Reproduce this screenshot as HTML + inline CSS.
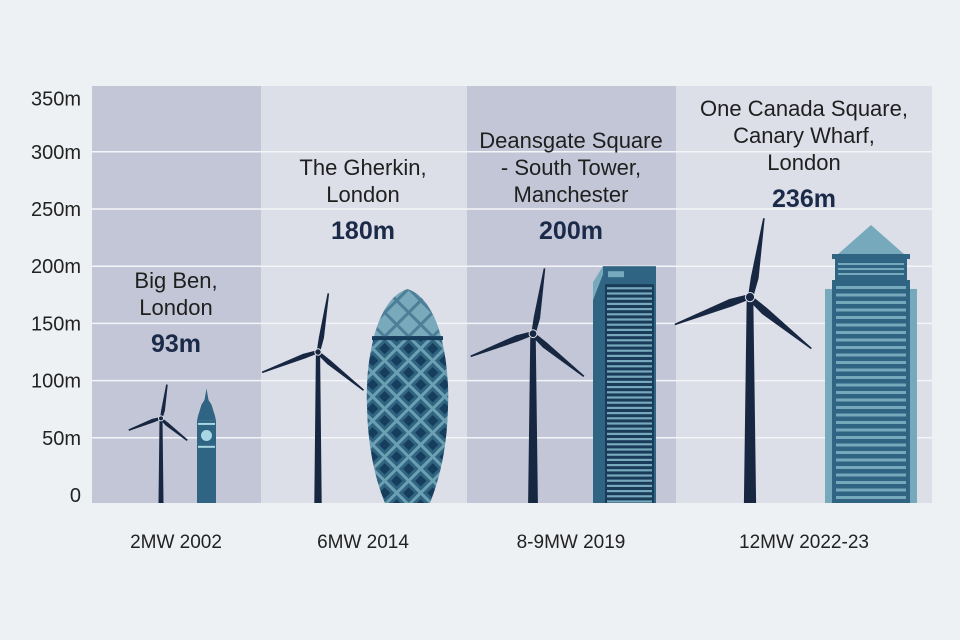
<!DOCTYPE html>
<html><head><meta charset="utf-8"><style>
body{margin:0;background:#eef1f3;}
svg{display:block;font-family:"Liberation Sans","DejaVu Sans",sans-serif;}
</style></head><body>
<svg id="chart" width="960" height="640" viewBox="0 0 960 640">
<defs>
<pattern id="diam" width="17" height="17" patternUnits="userSpaceOnUse" patternTransform="rotate(45)">
<rect width="17" height="17" fill="#6d9fb2"/><rect x="1.5" y="1.5" width="14" height="14" fill="#306582"/><rect x="4.5" y="4.5" width="8" height="8" fill="#163d5c"/>
</pattern>
<pattern id="diamTop" width="17" height="17" patternUnits="userSpaceOnUse" patternTransform="rotate(45)">
<rect width="17" height="17" fill="#4d7f98"/><rect x="1.5" y="1.5" width="14" height="14" fill="#78aabb"/>
</pattern>
</defs>
<rect width="960" height="640" fill="#eef1f3"/>
<g id="cols"></g><g id="grid"></g><g id="yax"></g><g id="marks"></g><g id="labels"></g>
</svg>
<script>
const categories = ["2MW 2002","6MW 2014","8-9MW 2019","12MW 2022-23"];
const hubHeights = [67,125,141,173];
const rotorRadius = [30,52,58,70];
const buildingHeights = [93,180,200,236];
const buildingNames = [["Big Ben,","London"],["The Gherkin,","London"],["Deansgate Square","- South Tower,","Manchester"],["One Canada Square,","Canary Wharf,","London"]];
const yTicks = [0,50,100,150,200,250,300,350];

const NS="http://www.w3.org/2000/svg";
const plotTop=86, plotBot=503, base=495, scale=1.144;
const colEdges=[92,261,467,676,932];
const turbX=[161,318,533,750];
const bldgX=[[197,216],[367,448],[593,656],[825,917]];
const labelCx=[176,363,571,804];
const valueLabelY=[352,239,239,207];
function y(v){return base-v*scale;}
function el(tag,attrs,parent){const e=document.createElementNS(NS,tag);for(const k in attrs)e.setAttribute(k,attrs[k]);parent.appendChild(e);return e;}
const G=id=>document.getElementById(id);

for(let i=0;i<4;i++){
  const r=el('rect',{x:colEdges[i],y:plotTop,width:colEdges[i+1]-colEdges[i],height:plotBot-plotTop,fill:i%2?'#dcdee8':'#c2c6d6'},G('cols'));
  
  
}
yTicks.forEach(t=>{
  if(t>0&&t<350){
    const l=el('line',{x1:92,x2:932,y1:y(t),y2:y(t),stroke:'#f4f5f8','stroke-width':1.5},G('grid'));
    
    
  }
  const tx=el('text',{x:81,y:(t===350?y(t)+11:y(t)+7),'text-anchor':'end','font-size':20,fill:'#222'},G('yax'));
  tx.textContent=t===0?'0':t+'m';
  
  
});

function turbine(i){
  const g=el('g',{},G('marks'));
  
  
  const cx=turbX[i], hy=y(hubHeights[i]), R=rotorRadius[i]*scale;
  const bw=2.5+i*1.2, tw=1.5+i*0.6;
  el('polygon',{points:`${cx-tw},${hy} ${cx+tw},${hy} ${cx+bw},${plotBot} ${cx-bw},${plotBot}`,fill:'#172741'},g);
  [10,130,250].forEach(a=>{
    const rad=a*Math.PI/180, dx=Math.sin(rad), dy=-Math.cos(rad), px=-dy, py=dx;
    const w=2.5+i*0.9;
    const p=[[cx+px*w*0.6,hy+py*w*0.6],[cx+dx*R*0.25+px*w,hy+dy*R*0.25+py*w],[cx+dx*R+px*0.8,hy+dy*R+py*0.8],[cx+dx*R-px*0.8,hy+dy*R-py*0.8],[cx+dx*R*0.25-px*w*0.5,hy+dy*R*0.25-py*w*0.5],[cx-px*w*0.4,hy-py*w*0.4]];
    el('polygon',{points:p.map(q=>q.join(',')).join(' '),fill:'#172741'},g);
  });
  el('circle',{cx:cx,cy:hy,r:2.5+i*0.7,fill:'#172741',stroke:'#dcdee8','stroke-width':1},g);
}
function building(i){
  const g=el('g',{},G('marks'));
  
  
  const [x0,x1]=bldgX[i], top=y(buildingHeights[i]), w=x1-x0, cx=(x0+x1)/2, H=plotBot-top;
  if(i===0){
    el('rect',{x:x0,y:top+H*0.28,width:w,height:plotBot-top-H*0.28,fill:'#2f6482'},g);
    el('polygon',{points:`${cx},${top} ${cx+2},${top+H*0.1} ${cx+5},${top+H*0.14} ${x1-1},${top+H*0.24} ${x1},${top+H*0.28} ${x0},${top+H*0.28} ${x0+1},${top+H*0.24} ${cx-5},${top+H*0.14} ${cx-2},${top+H*0.1}`,fill:'#2f6482'},g);
    el('rect',{x:x0+1,y:top+H*0.3,width:w-2,height:2,fill:'#a9d6e3'},g);
    el('circle',{cx:cx,cy:top+H*0.41,r:5.5,fill:'#a9d6e3'},g);
    el('rect',{x:x0+1,y:top+H*0.5,width:w-2,height:2,fill:'#a9d6e3'},g);
  } else if(i===1){
    const path=`M${cx},${top} C${x1-8},${top+10} ${x1+2},${top+H*0.35} ${x1},${top+H*0.55} C${x1-1},${top+H*0.8} ${x1-14},${plotBot-10} ${x1-18},${plotBot} L${x0+18},${plotBot} C${x0+14},${plotBot-10} ${x0+1},${top+H*0.8} ${x0},${top+H*0.55} C${x0-2},${top+H*0.35} ${x0+8},${top+10} ${cx},${top} Z`;
    el('clipPath',{id:'gclip'},g).appendChild((()=>{const p=document.createElementNS(NS,'path');p.setAttribute('d',path);return p;})());
    el('path',{d:path,fill:'url(#diam)'},g);
    el('rect',{x:x0-5,y:top,width:w+10,height:H*0.22,fill:'url(#diamTop)','clip-path':'url(#gclip)'},g);
    el('rect',{x:x0+5,y:top+H*0.22,width:w-10,height:4,fill:'#163d5c'},g);
  } else if(i===2){
    el('polygon',{points:`${x0},${top+18} ${x0+10},${top} ${x0+10},${plotBot} ${x0},${plotBot}`,fill:'#2f6482'},g);
    el('polygon',{points:`${x0},${top+16} ${x0+10},${top} ${x0+10},${top+8} ${x0},${top+34}`,fill:'#76a9bb'},g);
    el('rect',{x:x0+10,y:top,width:w-10,height:plotBot-top,fill:'#2f6482'},g);
    el('rect',{x:x0+15,y:top+5,width:16,height:6,fill:'#76a9bb'},g);
    el('rect',{x:x0+12,y:top+18,width:w-14,height:plotBot-top-18,fill:'#1b3b5a'},g);
    for(let yy=top+21;yy<plotBot-2;yy+=5.2) el('rect',{x:x0+14,y:yy,width:w-18,height:2.2,fill:'#76a9bb'},g);
  } else {
    el('rect',{x:x0,y:top+H*0.23,width:w,height:plotBot-top-H*0.23,fill:'#76a9bb'},g);
    el('polygon',{points:`${cx},${top} ${x1-12},${top+30} ${x0+12},${top+30}`,fill:'#76a9bb'},g);
    el('rect',{x:x0+7,y:top+29,width:w-14,height:5,fill:'#2f6482'},g);
    el('rect',{x:x0+10,y:top+34,width:w-20,height:22,fill:'#2f6482'},g);
    el('rect',{x:x0+7,y:top+55,width:w-14,height:plotBot-top-55,fill:'#2f6482'},g);
    for(let yy=top+38;yy<top+52;yy+=5) el('rect',{x:x0+13,y:yy,width:w-26,height:2,fill:'#76a9bb'},g);
    for(let yy=top+61;yy<plotBot-6;yy+=7.5) el('rect',{x:x0+11,y:yy,width:w-22,height:3,fill:'#76a9bb'},g);
  }
}
for(let i=0;i<4;i++){turbine(i);building(i);}

for(let i=0;i<4;i++){
  const names=buildingNames[i];
  const valY=valueLabelY[i];
  const v=el('text',{x:labelCx[i],y:valY,'text-anchor':'middle','font-size':25,'font-weight':'bold',fill:'#1b2a48'},G('labels'));
  v.textContent=buildingHeights[i]+'m';
  
  
  names.forEach((n,k)=>{
    const t=el('text',{x:labelCx[i],y:valY-37-(names.length-1-k)*27,'text-anchor':'middle','font-size':22,fill:'#1f1f1f'},G('labels'));
    t.textContent=n;
    
    
  });
  const c=el('text',{x:labelCx[i],y:548,'text-anchor':'middle','font-size':19,fill:'#222'},G('labels'));
  c.textContent=categories[i];
  
  
}
</script>
</body></html>
